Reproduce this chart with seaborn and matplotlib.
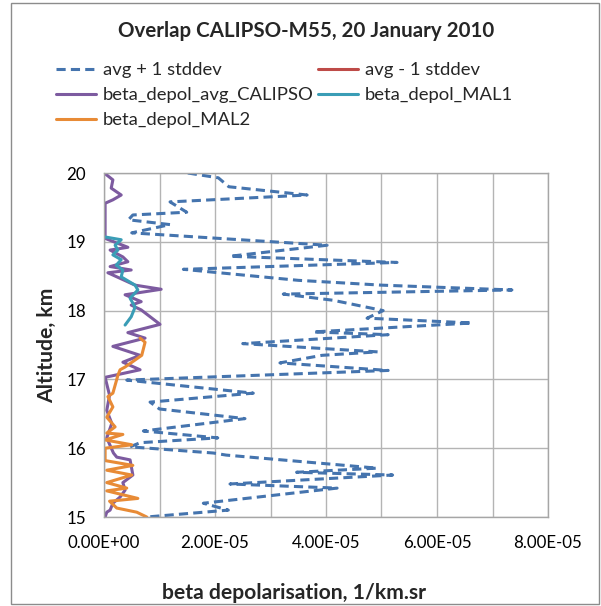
import numpy as np
import pandas as pd
import matplotlib
matplotlib.use("Agg")
import matplotlib.pyplot as plt
import matplotlib.patches as mpatches
import seaborn as sns

sns.set_style("white")
plt.rcParams['font.family'] = ['Lato', 'DejaVu Sans']

# ---- data (x in 1e-5 1/km.sr, altitude in km) ----
plus_x = [1.51, 2.06, 2.25, 3.66, 1.19, 1.49, 0.52, 0.44, 1.19, 0.50, 4.02, 2.27, 5.28, 1.43,
          3.50, 5.00, 7.35, 3.23, 4.13, 5.03, 4.74, 6.63, 3.77, 5.12, 2.50, 4.93, 3.93, 3.17,
          5.12, 0.41, 2.69, 0.83, 1.00, 2.54, 0.71, 2.05, 0.65, 0.47, 1.97, 2.20, 4.92, 3.47,
          5.20, 2.27, 4.20, 1.79, 2.24, 0.77]
plus_alt = [20.00, 19.93, 19.80, 19.68, 19.58, 19.43, 19.39, 19.32, 19.25, 19.13, 18.95, 18.79,
            18.70, 18.60, 18.44, 18.37, 18.30, 18.24, 18.15, 18.00, 17.89, 17.82, 17.69, 17.65,
            17.52, 17.40, 17.35, 17.24, 17.13, 16.99, 16.80, 16.67, 16.57, 16.43, 16.25, 16.15,
            16.08, 16.02, 15.93, 15.90, 15.71, 15.65, 15.61, 15.48, 15.42, 15.20, 15.10, 15.00]

minus_x = [-0.9, -1.6, -1.2, -2.4, -0.8, -1.5, -0.9, -2.1, -1.1, -0.6]
minus_alt = [20.0, 19.5, 19.0, 18.5, 18.0, 17.5, 17.0, 16.5, 16.0, 15.0]

cal_x = [0.02, 0.16, 0.13, 0.31, 0.16, 0.02, 0.02, np.nan, 0.02, 0.43, 0.11, 0.34, 0.43, 0.11,
         0.49, 0.07, 0.56, 1.03, 0.38, 0.67, 0.49, 0.67, 1.01, 0.43, 0.74, 0.16, 0.65, 0.34,
         0.65, 0.02, 0.10, 0.05, 0.14, 0.05, 0.17, 0.23, 0.47, 0.52, 0.34, 0.38, 0.29, 0.16,
         0.11, 0.05, 0.02]
cal_alt = [19.99, 19.90, 19.78, 19.68, 19.61, 19.56, 19.46, 19.30, 19.05, 18.92, 18.88, 18.78,
           18.71, 18.64, 18.59, 18.55, 18.37, 18.31, 18.23, 18.13, 18.08, 18.01, 17.80, 17.68,
           17.60, 17.48, 17.35, 17.25, 17.14, 17.03, 16.77, 16.55, 16.36, 16.15, 15.93, 15.87,
           15.83, 15.61, 15.50, 15.39, 15.29, 15.20, 15.10, 15.07, 15.00]

mal1_x = [0.02, 0.31, 0.20, 0.25, 0.16, 0.31, 0.22, 0.34, 0.31, 0.56, 0.61, 0.47, 0.56, 0.49, 0.38]
mal1_alt = [19.07, 19.03, 18.95, 18.88, 18.81, 18.74, 18.66, 18.59, 18.49, 18.37, 18.30, 18.18,
            18.05, 17.91, 17.79]

mal2_x = [0.65, 0.74, 0.68, 0.38, 0.29, 0.25, 0.23, 0.16, 0.07, 0.16, 0.05, 0.20, 0.05, 0.34,
          0.02, 0.50, 0.02, 0.02, 0.52, 0.05, 0.50, 0.05, 0.41, 0.05, 0.61, 0.10, 0.23, 0.59, 0.77]
mal2_alt = [17.60, 17.54, 17.35, 17.18, 17.14, 17.06, 17.00, 16.80, 16.75, 16.60, 16.45, 16.31,
            16.22, 16.20, 16.12, 16.05, 16.00, 15.82, 15.75, 15.68, 15.61, 15.50, 15.42, 15.38,
            15.27, 15.23, 15.13, 15.07, 15.00]

scale = 1e-5
title = "Overlap CALIPSO-M55, 20 January 2010"
xlabel = "beta depolarisation, 1/km.sr"
ylabel = "Altitude, km"
x_ticks = [0, 2e-5, 4e-5, 6e-5, 8e-5]
x_ticklabels = ["0.00E+00", "2.00E-05", "4.00E-05", "6.00E-05", "8.00E-05"]
y_ticks = [15, 16, 17, 18, 19, 20]

fig = plt.figure(figsize=(6.01, 6.06), dpi=100)
ax = fig.add_axes([104/601, 1-517/606, 444/601, 344/606])

def draw(xs, alts, color, label, **kw):
    df = pd.DataFrame({"x": np.array(xs, dtype=float) * scale, "alt": alts})
    sns.lineplot(data=df, x="x", y="alt", sort=False, estimator=None, color=color,
                 linewidth=2.2, ax=ax, label=label, legend=False, **kw)
    return ax.lines[-1]

h_plus = draw(plus_x, plus_alt, "#4574AE", "avg + 1 stddev", linestyle=(0, (3.0, 1.7)))
h_minus = draw(minus_x, minus_alt, "#BE4B48", "avg - 1 stddev")
h_cal = draw(cal_x, cal_alt, "#7D5BA0", "beta_depol_avg_CALIPSO")
h_m1 = draw(mal1_x, mal1_alt, "#3A9DB6", "beta_depol_MAL1")
h_m2 = draw(mal2_x, mal2_alt, "#E88B36", "beta_depol_MAL2")

ax.set_xlim(0, 8e-5)
ax.set_ylim(15, 20)
ax.set_xticks(x_ticks)
ax.set_xticklabels(x_ticklabels)
ax.set_xticks(np.arange(0, 8.5e-5, 1e-5), minor=True)
ax.set_yticks(y_ticks)
ax.set_yticklabels([str(v) for v in y_ticks])
ax.grid(True, which="both", color="#B4B4B4", linewidth=1.0)
ax.set_axisbelow(True)
ax.tick_params(axis="both", which="both", length=0, labelsize=12.2, colors="black")
ax.tick_params(axis="x", pad=13)
ax.tick_params(axis="y", pad=13)
for s in ax.spines.values():
    s.set_color("#A6A6A6")
    s.set_linewidth(1.0)
    s.set_visible(True)
ax.set_xlabel("")
ax.set_ylabel("")

fig.text(306/601, 1-31/606, title, ha="center", va="center", fontsize=14.8, fontweight="bold")
fig.text(294/601, 1-593/606, xlabel, ha="center", va="center", fontsize=15.2, fontweight="bold")
fig.text(47/601, 1-345/606, ylabel, ha="center", va="center", rotation=90, fontsize=15.2,
         fontweight="bold")

fig.legend(handles=[h_plus, h_cal, h_m2, h_minus, h_m1],
           labels=["avg + 1 stddev", "beta_depol_avg_CALIPSO", "beta_depol_MAL2",
                   "avg - 1 stddev", "beta_depol_MAL1"],
           loc="upper left", bbox_to_anchor=(56/601, 1-62/606), ncol=2, frameon=False,
           fontsize=13.3, handlelength=2.15, handletextpad=0.38, columnspacing=0.25,
           labelspacing=0.5, borderaxespad=0, borderpad=0)

fig.patches.append(mpatches.Rectangle((11/601, 2/606), 588/601, 601/606, transform=fig.transFigure,
                                      fill=False, edgecolor="#8C8C8C", linewidth=1.0))

fig.savefig("out.png", dpi=100)
